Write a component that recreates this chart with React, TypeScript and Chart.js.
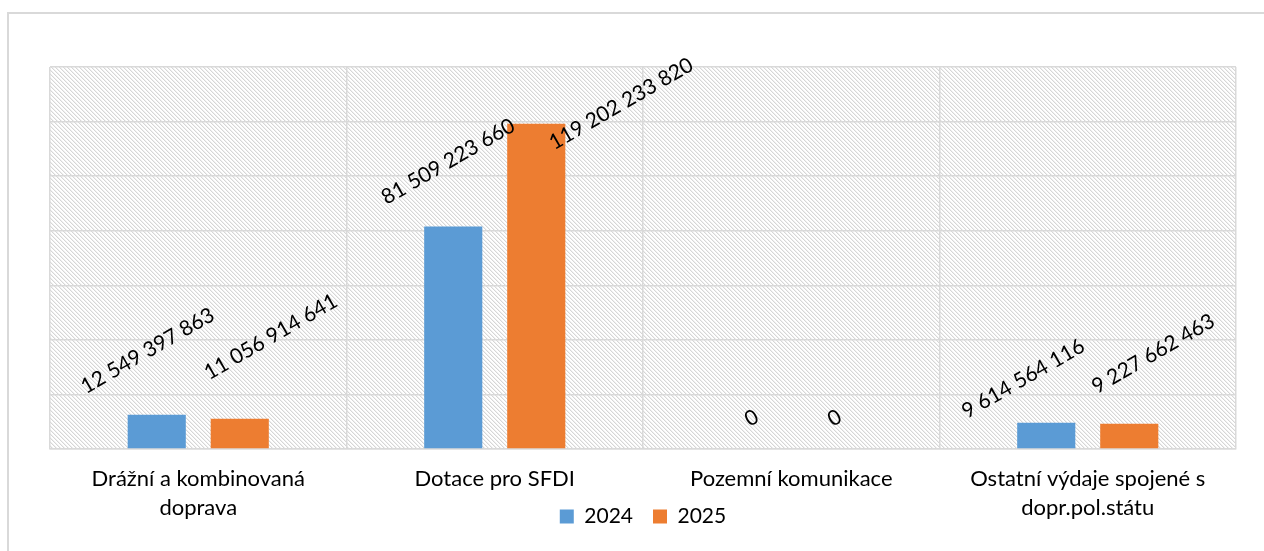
import React, { useEffect, useRef } from "react";
import { Chart, registerables } from "chart.js";

Chart.register(...registerables);

// ---- data ----
const categories: string[][] = [
  ["Drážní a kombinovaná", "doprava"],
  ["Dotace pro SFDI"],
  ["Pozemní komunikace"],
  ["Ostatní výdaje spojené s", "dopr.pol.státu"],
];
const seriesNames = ["2024", "2025"];
const values2024 = [12549397863, 81509223660, 0, 9614564116];
const values2025 = [11056914641, 119202233820, 0, 9227662463];
const yMin = 0;
const yMax = 140000000000;
const yStep = 20000000000;

// ---- style ----
const COLORS = ["#5b9bd5", "#ed7d31"];
const GRID = "#d9d9d9";
const FONT = "Lato";
// data label centre offsets relative to the bar's top centre (px), per series / category
const LABEL_OFFSETS: number[][][] = [
  [[-9, -64], [-5, -65], [2, -31], [-23, -44]],
  [[31, -82], [85, -20], [2, -31], [24, -70]],
];

const fmt = (v: number) => String(v).replace(/\B(?=(\d{3})+(?!\d))/g, " ");

function makePattern(): CanvasPattern | string {
  const c = document.createElement("canvas");
  c.width = 4;
  c.height = 4;
  const g = c.getContext("2d");
  if (!g) return "#fff";
  g.fillStyle = "#ffffff";
  g.fillRect(0, 0, 4, 4);
  for (let y = 0; y < 4; y++) {
    for (let x = 0; x < 4; x++) {
      const d = (x - y + 8) % 4;
      if (d === 0) {
        g.fillStyle = "#d6d6d6";
        g.fillRect(x, y, 1, 1);
      } else if (d === 1) {
        g.fillStyle = "#f0f0f0";
        g.fillRect(x, y, 1, 1);
      }
    }
  }
  const p = g.createPattern(c, "repeat");
  return p || "#fff";
}

export default function App() {
  const ref = useRef<HTMLCanvasElement | null>(null);

  useEffect(() => {
    if (!ref.current) return;
    const pattern = makePattern();

    const bgPlugin = {
      id: "bgPlugin",
      beforeDraw(chart: any) {
        const { ctx, chartArea: a } = chart;
        ctx.save();
        ctx.fillStyle = "#ffffff";
        ctx.fillRect(0, 0, chart.width, chart.height);
        ctx.fillStyle = pattern;
        ctx.fillRect(a.left, a.top, a.right - a.left, a.bottom - a.top);
        ctx.strokeStyle = GRID;
        ctx.lineWidth = 2;
        ctx.beginPath();
        ctx.moveTo(8, chart.height);
        ctx.lineTo(8, 13);
        ctx.lineTo(chart.width, 13);
        ctx.stroke();
        ctx.restore();
      },
    };

    const labelPlugin = {
      id: "labelPlugin",
      afterDatasetsDraw(chart: any) {
        const { ctx } = chart;
        chart.data.datasets.forEach((ds: any, di: number) => {
          const meta = chart.getDatasetMeta(di);
          meta.data.forEach((bar: any, i: number) => {
            const v = ds.data[i];
            const off = LABEL_OFFSETS[di][i];
            ctx.save();
            ctx.translate(bar.x + off[0], bar.y + off[1]);
            ctx.rotate(-Math.PI / 6);
            ctx.font = `21px ${FONT}`;
            ctx.textAlign = "center";
            ctx.textBaseline = "middle";
            ctx.fillStyle = "#000000";
            ctx.fillText(fmt(v), 0, 0);
            ctx.restore();
          });
        });
      },
    };

    const chart = new Chart(ref.current, {
      type: "bar",
      data: {
        labels: categories,
        datasets: [
          {
            label: seriesNames[0],
            data: values2024,
            backgroundColor: COLORS[0],
            categoryPercentage: 0.56,
            barPercentage: 0.7,
          },
          {
            label: seriesNames[1],
            data: values2025,
            backgroundColor: COLORS[1],
            categoryPercentage: 0.56,
            barPercentage: 0.7,
          },
        ],
      },
      options: {
        responsive: false,
        animation: false,
        layout: { padding: { left: 50, right: 28, top: 67, bottom: 14 } },
        plugins: {
          tooltip: { enabled: false },
          legend: {
            position: "bottom",
            labels: {
              boxWidth: 14,
              boxHeight: 14,
              padding: 20,
              color: "#000000",
              font: { family: FONT, size: 21 },
            },
          },
        },
        scales: {
          x: {
            grid: { color: GRID, lineWidth: 1.5, drawTicks: false, offset: true },
            border: { display: true, color: GRID, width: 1.5 },
            ticks: {
              color: "#000000",
              font: { family: FONT, size: 22, lineHeight: 29 / 22 },
              padding: 15,
              maxRotation: 0,
              autoSkip: false,
            },
            afterFit(scale: any) {
              scale.height = 37;
              scale._computeLabelArea = () => undefined;
            },
          },
          y: {
            min: yMin,
            max: yMax,
            grid: { color: GRID, lineWidth: 1.5, drawTicks: false },
            border: { display: false },
            ticks: { display: false, stepSize: yStep },
          },
        },
      },
      plugins: [bgPlugin, labelPlugin],
    } as any);

    return () => chart.destroy();
  }, []);

  return (
    <div style={{ position: "fixed", left: 0, top: 0, width: 1264, height: 551 }}>
      <canvas ref={ref} width={1264} height={551} />
    </div>
  );
}
